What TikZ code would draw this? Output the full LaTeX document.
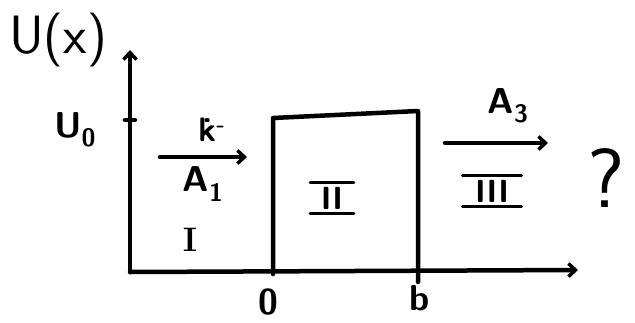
\documentclass[tikz,border=0pt]{standalone}
\usetikzlibrary{arrows.meta}
\begin{document}
\begin{tikzpicture}[x=1pt,y=-1pt, line width=4.5pt, line cap=round, line join=round,
  axisarrow/.style={-{Straight Barb[length=7pt,width=13pt,line width=3.5pt]}},
  lbl/.style={inner sep=0pt, font=\sffamily\bfseries\fontsize{36}{38}\selectfont},
  biglbl/.style={inner sep=0pt, font=\sffamily\fontsize{54}{56}\selectfont},
  roman/.style={inner sep=2.5pt, font=\sffamily\bfseries\fontsize{32}{34}\selectfont},
  romanbar/.style={line width=3pt}]
\useasboundingbox (0,0) rectangle (635,322);
% axes
\coordinate (O) at (130,272);
\coordinate (ytop) at (130,50);
\coordinate (xend) at (578,270);
\draw[axisarrow] (O) -- (ytop);
\draw[axisarrow] (O) -- (xend);
% U0 tick
\coordinate (u0a) at (125,120);
\coordinate (u0b) at (135,120);
\draw (u0a) -- (u0b);
% barrier
\coordinate (bl) at (273,274);
\coordinate (tl) at (273,118);
\coordinate (tr) at (418,111);
\coordinate (br) at (418,282);
\draw (bl) -- (tl) -- (tr) -- (br);
% arrows
\coordinate (a1s) at (160,157);
\coordinate (a1e) at (247,157);
\draw[axisarrow] (a1s) -- (a1e);
\coordinate (a3s) at (445,143);
\coordinate (a3e) at (548,143);
\draw[axisarrow] (a3s) -- (a3e);
% labels
\node[biglbl] (ux) at (58,40) {U(x)};
\node[lbl] (u0) at (75,130) {U\textsubscript{0}};
\node[lbl, font=\sffamily\bfseries\fontsize{34}{36}\selectfont] (k) at (212,130) {\.{k}\textsuperscript{-}};
\node[lbl] (A1) at (203,184) {A\textsubscript{1}};
\node[lbl, font=\rmfamily\bfseries\fontsize{34}{36}\selectfont] (r1) at (190,240) {I};
\node[lbl] (A3) at (508,106) {A\textsubscript{3}};
\node[roman] (r2) at (332,198) {II};
\draw[romanbar] ([xshift=-6pt]r2.north west) -- ([xshift=6pt]r2.north east);
\draw[romanbar] ([xshift=-6pt]r2.south west) -- ([xshift=6pt]r2.south east);
\node[roman] (r3) at (492,191) {III};
\draw[romanbar] ([xshift=-8pt]r3.north west) -- ([xshift=8pt]r3.north east);
\draw[romanbar] ([xshift=-8pt]r3.south west) -- ([xshift=8pt]r3.south east);
\node[biglbl, font=\sffamily\fontsize{84}{86}\selectfont] (q) at (606,178) {?};
\node[lbl] (zero) at (268,302) {0};
\node[lbl] (b) at (420,298) {b};
\end{tikzpicture}
\end{document}
